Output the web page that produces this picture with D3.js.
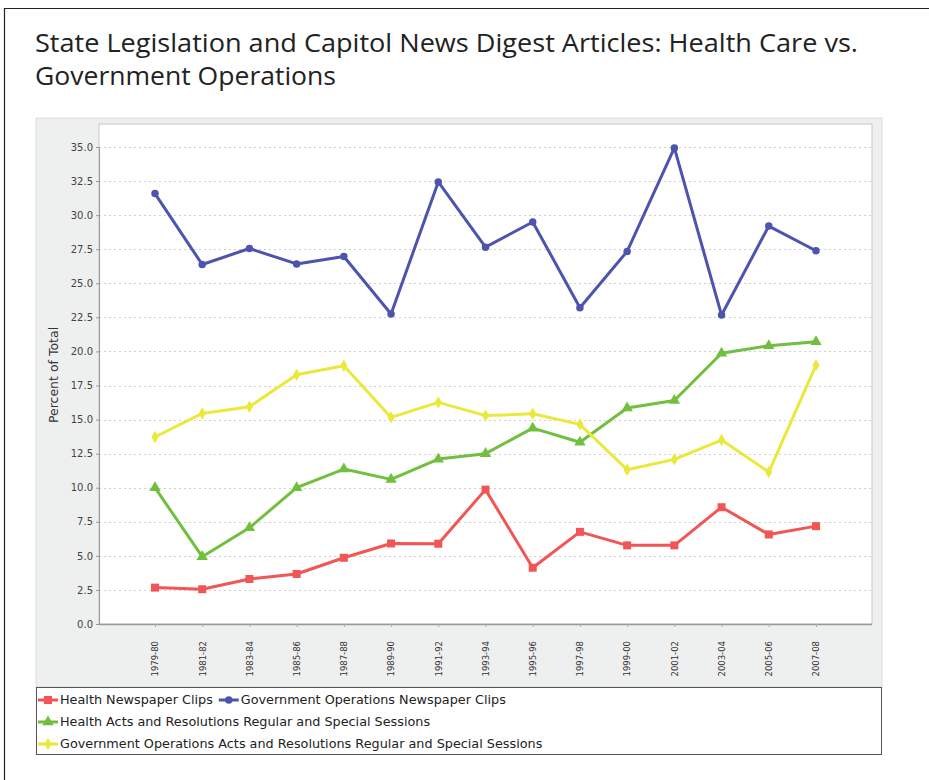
<!DOCTYPE html>
<html>
<head>
<meta charset="utf-8">
<script src="https://cdn.jsdelivr.net/npm/d3@7"></script>
<style>
  html, body { margin: 0; padding: 0; background: #fff; }
  svg { display: block; }
</style>
</head>
<body>
<svg id="chart" width="929" height="780"></svg>
<script>
// Legislative sessions (x categories)
const sessions = ["1979-80","1981-82","1983-84","1985-86","1987-88","1989-90","1991-92",
  "1993-94","1995-96","1997-98","1999-00","2001-02","2003-04","2005-06","2007-08"];

// Percent of total, per session
const healthClips = [2.67, 2.55, 3.3, 3.67, 4.86, 5.91, 5.89, 9.86, 4.13, 6.76, 5.77, 5.77, 8.57, 6.57, 7.18];
const govOpsClips = [31.58, 26.38, 27.55, 26.42, 26.96, 22.75, 32.44, 27.65, 29.5, 23.21, 27.34, 34.93, 22.67, 29.2, 27.39];
const healthActs = [10.0, 4.94, 7.06, 10.0, 11.37, 10.61, 12.1, 12.5, 14.37, 13.34, 15.85, 16.4, 19.87, 20.42, 20.71];
const govOpsActs = [13.72, 15.45, 15.94, 18.29, 18.95, 15.16, 16.26, 15.29, 15.43, 14.65, 11.32, 12.08, 13.5, 11.15, 19.0];

const yTicks = [0, 2.5, 5, 7.5, 10, 12.5, 15, 17.5, 20, 22.5, 25, 27.5, 30, 32.5, 35];

const seriesNames = [
  "Health Newspaper Clips",
  "Government Operations Newspaper Clips",
  "Health Acts and Resolutions Regular and Special Sessions",
  "Government Operations Acts and Resolutions Regular and Special Sessions"
];
const seriesColors = ["#f25555", "#4d54ad", "#71bf3f", "#ebe83c"];
const seriesShapes = [d3.symbolSquare, d3.symbolCircle, d3.symbolTriangle, d3.symbolDiamond];
const seriesSizes = [64, 44, 56, 44];

const series = [healthClips, govOpsClips, healthActs, govOpsActs].map((vals, i) => ({
  name: seriesNames[i], color: seriesColors[i], shape: seriesShapes[i], size: seriesSizes[i],
  values: vals.map((v, j) => ({ session: sessions[j], value: v }))
}));

const svg = d3.select("#chart");
const font = "'DejaVu Sans', sans-serif";

// Outer frame (top and left rules)
svg.append("path")
  .attr("d", "M4.5,929 V8.5 H929")
  .attr("fill", "none").attr("stroke", "#222").attr("stroke-width", 1.2);

// Title
const title = svg.append("text")
  .attr("x", 35).attr("font-family", "'Open Sans', 'Noto Sans', sans-serif")
  .attr("font-size", 25.5).attr("fill", "#222");
title.append("tspan").attr("x", 35).attr("y", 52)
  .attr("textLength", 823).attr("lengthAdjust", "spacingAndGlyphs")
  .text("State Legislation and Capitol News Digest Articles: Health Care vs.");
title.append("tspan").attr("x", 35).attr("y", 85)
  .attr("textLength", 301).attr("lengthAdjust", "spacingAndGlyphs")
  .text("Government Operations");

// Chart background panel
svg.append("rect")
  .attr("x", 36).attr("y", 118).attr("width", 846).attr("height", 569)
  .attr("fill", "#eeefef").attr("stroke", "#dcdcdc");

const plot = { left: 99, top: 124, right: 872, bottom: 624 };

const x = d3.scalePoint()
  .domain(sessions)
  .range([plot.left, plot.right])
  .padding(1.186);

const y = d3.scaleLinear()
  .domain([0, 35])
  .range([plot.bottom, 147]);

// Plot area
svg.append("rect")
  .attr("x", plot.left).attr("y", plot.top)
  .attr("width", plot.right - plot.left).attr("height", plot.bottom - plot.top)
  .attr("fill", "#fff").attr("stroke", "#c8c8c8");

// Horizontal dotted grid
svg.append("g")
  .selectAll("line")
  .data(yTicks.filter(d => d > 0))
  .join("line")
  .attr("x1", plot.left).attr("x2", plot.right)
  .attr("y1", d => Math.round(y(d)) + 0.5).attr("y2", d => Math.round(y(d)) + 0.5)
  .attr("stroke", "#d0d0d0").attr("stroke-dasharray", "2,3");

// Y axis
const yAxis = svg.append("g")
  .attr("transform", `translate(${plot.left},0)`)
  .call(d3.axisLeft(y).tickValues(yTicks).tickFormat(d3.format(".1f")).tickSize(3).tickPadding(3));
yAxis.select(".domain").attr("stroke", "#999");
yAxis.selectAll(".tick line").attr("stroke", "#999");
yAxis.selectAll(".tick text").attr("font-family", font).attr("font-size", 10).attr("fill", "#444");

// X axis
const xAxis = svg.append("g")
  .attr("transform", `translate(0,${plot.bottom})`)
  .call(d3.axisBottom(x).tickSize(3).tickSizeOuter(0));
xAxis.select(".domain").attr("stroke", "#999").attr("stroke-width", 1.5)
  .attr("d", `M${plot.left},0.5H${plot.right}`);
xAxis.selectAll(".tick line").attr("stroke", "#aaa");
xAxis.selectAll(".tick text")
  .attr("font-family", font).attr("font-size", 8.5).attr("fill", "#333")
  .attr("text-anchor", "end")
  .attr("transform", "rotate(-90)")
  .attr("x", -17).attr("y", 0).attr("dy", "0.33em");

// Y axis title
svg.append("text")
  .attr("transform", `translate(58,${(plot.top + plot.bottom) / 2 + 1}) rotate(-90)`)
  .attr("text-anchor", "middle")
  .attr("font-family", font).attr("font-size", 12.5).attr("fill", "#333")
  .text("Percent of Total");

// Lines and markers
const line = d3.line().x(d => x(d.session)).y(d => y(d.value));

const gSeries = svg.append("g")
  .selectAll("g")
  .data(series)
  .join("g");

gSeries.append("path")
  .attr("d", d => line(d.values))
  .attr("fill", "none")
  .attr("stroke", d => d.color)
  .attr("stroke-width", 3)
  .attr("stroke-linejoin", "round");

gSeries.each(function (s) {
  d3.select(this).selectAll("path.marker")
    .data(s.values)
    .join("path")
    .attr("class", "marker")
    .attr("transform", d => `translate(${x(d.session)},${y(d.value)})`)
    .attr("d", d3.symbol().type(s.shape).size(s.size))
    .attr("fill", s.color);
});

// Legend
svg.append("rect")
  .attr("x", 36.5).attr("y", 687.5).attr("width", 845).attr("height", 67)
  .attr("fill", "#fff").attr("stroke", "#555");

const legendRows = [[0, 1], [2], [3]];
const legendY = [700, 722, 744];

legendRows.forEach((row, r) => {
  let cursor = 38;
  row.forEach(si => {
    const s = series[si];
    const g = svg.append("g").attr("transform", `translate(${cursor},${legendY[r]})`);
    g.append("line").attr("x1", 0).attr("x2", 20).attr("stroke", s.color).attr("stroke-width", 3);
    g.append("path").attr("transform", "translate(10,0)")
      .attr("d", d3.symbol().type(s.shape).size(s.size)).attr("fill", s.color);
    const t = g.append("text").attr("x", 22).attr("dy", "0.35em")
      .attr("font-family", font).attr("font-size", 12.8).attr("fill", "#222")
      .text(s.name);
    cursor += 22 + t.node().getComputedTextLength() + 6;
  });
});
</script>
</body>
</html>
